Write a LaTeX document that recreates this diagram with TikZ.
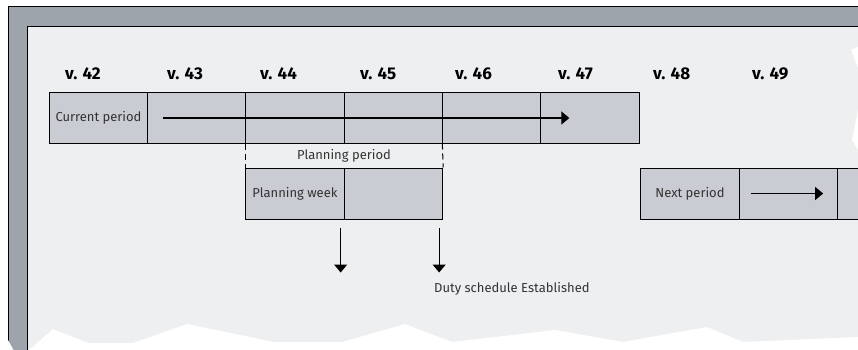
\documentclass[tikz,border=0pt]{standalone}
\usepackage{fontspec}
\setmainfont{Fira Sans}
\usetikzlibrary{arrows.meta}
\definecolor{framegray}{HTML}{9EA4AB}
\definecolor{panelgray}{HTML}{EEEFF1}
\definecolor{cellgray}{HTML}{C9CCD3}
\definecolor{textgray}{HTML}{333333}

\begin{document}
\begin{tikzpicture}[x=1pt, y=-1pt,
	cell/.style={draw=black, fill=cellgray, line width=1pt, minimum width=98.3pt, minimum height=50pt, inner sep=0pt, text=textgray, font=\fontsize{13}{13}\selectfont},
	week/.style={anchor=west, inner sep=0pt, font=\bfseries\fontsize{17}{17}\selectfont},
	note/.style={inner sep=0pt, text=textgray, font=\fontsize{13}{13}\selectfont},
	flow/.style={line width=1.1pt, -{Triangle[length=8pt, width=13pt]}}]
	
	\useasboundingbox (0,0) rectangle (858,350);
	\clip (0,0) rectangle (858,350);
	\fill[white] (0,0) rectangle (858,350);
	
	% board with torn edges
	\filldraw[fill=framegray, draw=black, line width=1pt] (8,7) rectangle (880,370);
	\filldraw[fill=panelgray, draw=black, line width=1pt] (27,27) rectangle (880,370);
	\fill[white] (0,340) -- (8,340) -- (14,351) -- (28,351) -- (53,329) -- (88,343) -- (133,343) -- (187,324) -- (274,342) -- (342,342) -- (405,324) -- (452,342) -- (555,330) -- (623,342) -- (707,327) -- (743,342) -- (858,337) -- (870,337) -- (870,360) -- (0,360) -- cycle;
	\fill[white] (862,45) -- (851,50) -- (858,68) -- (858,110) -- (852,140) -- (858,150) -- (870,150) -- (870,45) -- cycle;
	
	\node[week] (w42) at (65, 74) {v. 42};
	\node[week] (w43) at (167, 74) {v. 43};
	\node[week] (w44) at (260, 74) {v. 44};
	\node[week] (w45) at (360, 74) {v. 45};
	\node[week] (w46) at (455, 74) {v. 46};
	\node[week] (w47) at (558, 74) {v. 47};
	\node[week] (w48) at (653, 74) {v. 48};
	\node[week] (w49) at (752, 74) {v. 49};
	
	\node[cell] (c42) at (98.5, 118) {Current period};
	\node[cell] (c43) at (197, 118) {};
	\node[cell] (c44) at (295, 118) {};
	\node[cell] (c45) at (393.5, 118) {};
	\node[cell] (c46) at (492, 118) {};
	\node[cell] (c47) at (590, 118) {};
	
	\node[cell, minimum height=51pt] (pw1) at (295, 193.5) {Planning week};
	\node[cell, minimum height=51pt] (pw2) at (393.5, 193.5) {};
	
	\node[cell, minimum height=51pt] (np1) at (690, 193.5) {Next period};
	\node[cell, minimum height=51pt] (np2) at (788.5, 193.5) {};
	\node[cell, minimum height=51pt] (np3) at (887, 193.5) {};
	
	\node[note] (pp) at (344, 156) {Planning period};
	\node[note, anchor=west] (duty) at (434, 289) {Duty schedule Established};
	
	\coordinate (cpstart) at ([xshift=15pt]c42.east);
	\coordinate (cpend) at ([xshift=29pt]c47.west);
	\coordinate (npstart) at ([xshift=12pt]np2.west);
	\coordinate (npend) at ([xshift=-15pt]np2.east);
	\coordinate (pwa) at ([xshift=-4pt, yshift=-8pt]pw1.south east);
	\coordinate (pwb) at ([xshift=-4pt, yshift=-53pt]pw1.south east);
	\coordinate (dsa) at ([xshift=-4pt, yshift=-8pt]pw2.south east);
	\coordinate (dsb) at ([xshift=-4pt, yshift=-53pt]pw2.south east);
	
	\draw[flow] (cpstart) -- (cpend);
	\draw[flow] (npstart) -- (npend);
	\draw[flow] (pwa) -- (pwb);
	\draw[flow] (dsa) -- (dsb);
	
	\draw[line width=1pt, dash pattern=on 6pt off 4pt] (c44.south west) -- (pw1.north west);
	\draw[line width=1pt, dash pattern=on 6pt off 4pt] (c46.south west) -- (pw2.north east);
	
\end{tikzpicture}
\end{document}
